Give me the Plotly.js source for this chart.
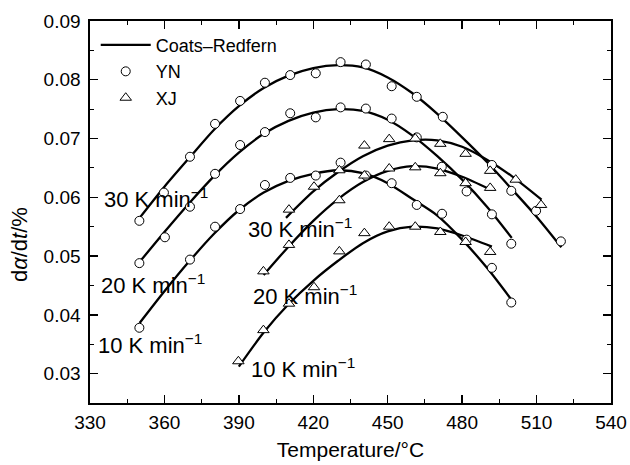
<!DOCTYPE html>
<html>
<head>
<meta charset="utf-8">
<script src="https://cdn.plot.ly/plotly-3.0.1.min.js"></script>
<style>html,body{margin:0;padding:0;background:#fff;}#chart{width:630px;height:465px;}</style>
</head>
<body>
<div id="chart"></div>
<script>
// ---- measured points: YN (circles) ----
const ynT30 = [349.9, 359.8, 370.3, 380.4, 390.5, 400.5, 410.7, 421.0, 431.0, 441.2, 451.6, 461.7, 472.2, 492.0, 499.8, 509.8, 519.8];
const ynV30 = [0.0560, 0.0608, 0.0669, 0.0725, 0.0764, 0.0795, 0.0808, 0.0811, 0.0830, 0.0826, 0.0789, 0.0771, 0.0737, 0.0655, 0.0611, 0.0577, 0.0525];
const ynT20 = [349.9, 360.2, 370.3, 380.4, 390.5, 400.5, 410.7, 421.0, 431.0, 441.2, 451.6, 461.7, 471.8, 481.8, 492.0, 499.8];
const ynV20 = [0.0488, 0.0532, 0.0584, 0.0640, 0.0689, 0.0711, 0.0743, 0.0736, 0.0753, 0.0751, 0.0734, 0.0702, 0.0652, 0.0610, 0.0571, 0.0521];
const ynT10 = [349.9, 370.3, 380.4, 390.5, 400.5, 410.7, 421.0, 431.0, 441.2, 451.6, 461.7, 471.9, 481.8, 492.0, 499.8];
const ynV10 = [0.0378, 0.0494, 0.0550, 0.0580, 0.0621, 0.0633, 0.0637, 0.0659, 0.0637, 0.0624, 0.0587, 0.0572, 0.0528, 0.0480, 0.0421];

// ---- measured points: XJ (triangles) ----
const xjT30 = [410.2, 420.3, 430.5, 440.6, 450.6, 461.1, 471.2, 481.4, 491.3, 501.6, 511.8];
const xjV30 = [0.0579, 0.0618, 0.0646, 0.0688, 0.0699, 0.0700, 0.0691, 0.0674, 0.0645, 0.0630, 0.0587];
const xjT20 = [399.9, 410.2, 430.5, 440.6, 450.6, 461.1, 471.2, 481.4, 491.3];
const xjV20 = [0.0474, 0.0519, 0.0595, 0.0637, 0.0649, 0.0651, 0.0641, 0.0624, 0.0616];
const xjT10 = [389.8, 399.9, 410.2, 420.3, 430.5, 440.6, 450.6, 461.1, 471.2, 481.4, 491.3];
const xjV10 = [0.0321, 0.0374, 0.0419, 0.0447, 0.0508, 0.0539, 0.0550, 0.0550, 0.0541, 0.0524, 0.0507];

// ---- Coats-Redfern fitted curves ----
const fitYnT30 = [350, 360, 370, 380, 390, 400, 410, 420, 430, 440, 450, 460, 470, 480, 490, 500, 510, 520];
const fitYnV30 = [0.0565, 0.0618, 0.0667, 0.0715, 0.0755, 0.0786, 0.0807, 0.0820, 0.0825, 0.0821, 0.0804, 0.0777, 0.0742, 0.0702, 0.0660, 0.0614, 0.0567, 0.0515];
const fitYnT20 = [350, 360, 370, 380, 390, 400, 410, 420, 430, 440, 450, 460, 470, 480, 490, 500];
const fitYnV20 = [0.0490, 0.0541, 0.0590, 0.0636, 0.0676, 0.0708, 0.0730, 0.0744, 0.0750, 0.0747, 0.0732, 0.0705, 0.0670, 0.0630, 0.0584, 0.0531];
const fitYnT10 = [350, 360, 370, 380, 390, 400, 410, 420, 430, 440, 450, 460, 470, 480, 490, 500];
const fitYnV10 = [0.0386, 0.0440, 0.0491, 0.0538, 0.0578, 0.0608, 0.0628, 0.0640, 0.0646, 0.0641, 0.0624, 0.0597, 0.0569, 0.0528, 0.0480, 0.0425];
const fitXjT30 = [409, 420, 430, 440, 450, 460, 470, 480, 490, 500, 512];
const fitXjV30 = [0.0565, 0.0610, 0.0643, 0.0670, 0.0688, 0.0697, 0.0697, 0.0686, 0.0664, 0.0636, 0.0596];
const fitXjT20 = [400, 410, 420, 430, 440, 450, 460, 470, 480, 491];
const fitXjV20 = [0.0468, 0.0516, 0.0560, 0.0597, 0.0626, 0.0645, 0.0653, 0.0649, 0.0635, 0.0614];
const fitXjT10 = [390, 400, 410, 420, 430, 440, 450, 460, 470, 480, 492];
const fitXjV10 = [0.0312, 0.0370, 0.0418, 0.0458, 0.0492, 0.0522, 0.0542, 0.0550, 0.0547, 0.0535, 0.0516];

// ---- text labels ----
const legendNames = ['Coats\u2013Redfern', 'YN', 'XJ'];
const rateLabels = ['30 K min<sup>\u22121</sup>', '20 K min<sup>\u22121</sup>', '10 K min<sup>\u22121</sup>',
                    '30 K min<sup>\u22121</sup>', '20 K min<sup>\u22121</sup>', '10 K min<sup>\u22121</sup>'];
const labelX = [335.0, 333.8, 332.6, 392.9, 395.0, 394.2];
const labelY = [0.0598, 0.0452, 0.0350, 0.0548, 0.0434, 0.0309];
const xTitle = 'Temperature/\u00b0C';
const yTitle = 'd<i>\u03b1</i>/d<i>t</i>/%';

const FONT = 'Arial, "Liberation Sans", Helvetica, sans-serif';

const fits = [[fitYnT30, fitYnV30], [fitYnT20, fitYnV20], [fitYnT10, fitYnV10],
              [fitXjT30, fitXjV30], [fitXjT20, fitXjV20], [fitXjT10, fitXjV10]];
const traces = [];
fits.forEach((f, i) => {
  traces.push({
    x: f[0], y: f[1], type: 'scatter', mode: 'lines',
    line: {color: '#000', width: 2.3, shape: 'spline', smoothing: 0.8},
    name: legendNames[0], legendgroup: 'fit', showlegend: i === 0,
    hoverinfo: 'skip'
  });
});
const yn = [[ynT30, ynV30], [ynT20, ynV20], [ynT10, ynV10]];
yn.forEach((s, i) => {
  traces.push({
    x: s[0], y: s[1], type: 'scatter', mode: 'markers',
    marker: {symbol: 'circle', size: 9, color: '#fff', line: {color: '#000', width: 1}},
    name: legendNames[1], legendgroup: 'yn', showlegend: i === 0
  });
});
const xj = [[xjT30, xjV30], [xjT20, xjV20], [xjT10, xjV10]];
xj.forEach((s, i) => {
  traces.push({
    x: s[0], y: s[1], type: 'scatter', mode: 'markers',
    marker: {symbol: 'triangle-up', size: 10, color: '#fff', line: {color: '#000', width: 1}},
    name: legendNames[2], legendgroup: 'xj', showlegend: i === 0
  });
});

const annotations = rateLabels.map((t, i) => ({
  x: labelX[i], y: labelY[i], xref: 'x', yref: 'y', text: t, showarrow: false,
  xanchor: 'left', yanchor: 'middle', font: {family: FONT, size: 22, color: '#000'}
}));
annotations.push({
  x: -0.134, y: 0.414, xref: 'paper', yref: 'paper', text: yTitle, showarrow: false,
  textangle: -90, xanchor: 'center', yanchor: 'middle',
  font: {family: FONT, size: 22, color: '#000'}
});

const axisCommon = {
  showline: true, linecolor: '#000', linewidth: 1.6, mirror: 'allticks',
  ticks: 'inside', ticklen: 8, tickwidth: 1.3, tickcolor: '#000',
  showgrid: false, zeroline: false,
  tickfont: {family: FONT, size: 19, color: '#000'}
};

const layout = {
  width: 630, height: 465,
  margin: {l: 90, r: 19, t: 21, b: 62},
  paper_bgcolor: '#fff', plot_bgcolor: '#fff',
  font: {family: FONT, color: '#000'},
  showlegend: true,
  legend: {x: 0.011, y: 0.985, xanchor: 'left', yanchor: 'top', bgcolor: 'rgba(0,0,0,0)',
           font: {family: FONT, size: 18, color: '#000'}, tracegroupgap: 0, itemwidth: 50},
  xaxis: Object.assign({}, axisCommon, {
    range: [330, 540], tickmode: 'linear', tick0: 330, dtick: 30,
    minor: {dtick: 15, ticks: 'inside', ticklen: 4, tickcolor: '#000', tickwidth: 1},
    ticklabelstandoff: 2,
    title: {text: xTitle, font: {family: FONT, size: 21, color: '#000'}, standoff: 10}
  }),
  yaxis: Object.assign({}, axisCommon, {
    range: [0.025, 0.09], tickmode: 'linear', tick0: 0.03, dtick: 0.01, tickformat: '.2f',
    minor: {dtick: 0.005, ticks: 'inside', ticklen: 4, tickcolor: '#000', tickwidth: 1},
    ticklabelstandoff: 4
  }),
  annotations: annotations
};

Plotly.newPlot('chart', traces, layout, {displayModeBar: false, staticPlot: true});
</script>
</body>
</html>
